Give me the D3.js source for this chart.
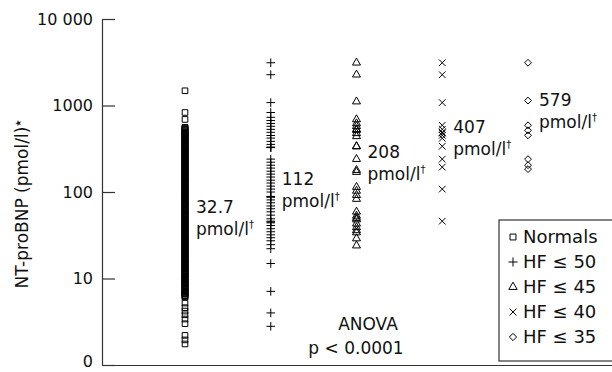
<!DOCTYPE html>
<html>
<head>
<meta charset="utf-8">
<script src="https://cdn.jsdelivr.net/npm/d3@7"></script>
<style>
  body { margin: 0; background: #fff; }
  svg { display: block; font-family: "DejaVu Sans", sans-serif; }
</style>
</head>
<body>
<div class="chart"></div>
<script>
// groups on the x axis and the median labels
const groups = ['Normals', 'HF ≤ 50', 'HF ≤ 45', 'HF ≤ 40', 'HF ≤ 35'];
const medians = ['32.7', '112', '208', '407', '579'];

// y ticks (log scale, bottom tick labelled 0)
const yTickValues = [1, 10, 100, 1000, 10000];
const yTickLabels = ['0', '10', '100', '1000', '10 000'];

// NT-proBNP values (pmol/l)
// normals overlap into a solid strip between ~6 and ~560
const normals = [1480, 830, 690,
  560, 549, 538, 529, 520, 508, 497, 487, 478, 469, 460, 452, 445, 435, 425, 417, 409, 402, 395, 386,
  378, 370, 363, 356, 350, 343, 336, 330, 323, 316, 310, 305, 300, 293, 287, 281, 276, 270, 265, 260,
  255, 250, 245, 240, 236, 231, 227, 222, 218, 214, 210, 206, 202, 198, 194, 190, 186, 182, 179, 175,
  172, 169, 166, 162, 159, 156, 153, 150, 147, 144, 141, 138, 136, 133, 131, 128, 126, 123, 121, 118,
  116, 114, 112, 109, 107, 105, 103, 101, 99, 97, 95, 93.5, 92, 90, 88, 86.5, 85, 83.5, 82, 80, 78,
  76.5, 75, 73.5, 72, 71, 70, 68.5, 67, 65.5, 64, 63, 62, 61, 60, 58.5, 57, 56, 55, 54, 53, 52, 51, 50,
  49, 48, 47, 46, 45, 44.2, 43.5, 42.6, 41.8, 41, 40.2, 39.4, 38.7, 37.9, 37.2, 36.4, 35.7, 35, 34.4,
  33.7, 33, 32.4, 31.8, 31.1, 30.5, 29.9, 29.4, 28.8, 28.2, 27.6, 27.1, 26.6, 26.1, 25.6, 25.1, 24.6,
  24.1, 23.6, 23.2, 22.7, 22.3, 21.8, 21.4, 21, 20.6, 20.2, 19.8, 19.4, 19, 18.6, 18.3, 17.9, 17.6,
  17.2, 16.9, 16.6, 16.3, 15.9, 15.6, 15.3, 15, 14.7, 14.4, 14.1, 13.9, 13.6, 13.4, 13.1, 12.8, 12.5,
  12.3, 12.1, 11.9, 11.6, 11.4, 11.2, 11, 10.7, 10.5, 10.3, 10.1, 9.9, 9.7, 9.5, 9.3, 9.1, 9, 8.8, 8.6,
  8.4, 8.3, 8.1, 8, 7.8, 7.7, 7.5, 7.4, 7.2, 7.1, 6.9, 6.8, 6.7, 6.6, 6.4, 6.3, 6.2, 6.1,
  5.2, 4.6, 4.2, 3.8, 3.4, 3.0, 2.2, 1.95, 1.75];
const hf50 = [3120, 2270, 1080, 830, 730, 670, 620, 575, 530, 490, 450, 420, 385, 355, 330, 328, 326,
  240, 221, 204, 189, 174, 161, 149, 137, 127, 117, 108, 100, 89, 88, 87, 81, 75, 69, 64, 59, 54, 49,
  46, 45, 44, 41, 37.6, 34.7, 32, 29.6, 27.3, 24.6, 22.1, 14.9, 7.1, 4.0, 2.8];
const hf45 = [3120, 2270, 1110, 690, 620, 575, 530, 520, 477, 440, 338, 335, 240, 179, 170, 114, 103,
  92, 83, 59, 53, 50, 48, 43, 39, 36, 34, 29, 24];
const hf40 = [3120, 2270, 1080, 590, 530, 490, 480, 452, 418, 338, 240, 194, 108, 46];
const hf35 = [3120, 1140, 590, 516, 452, 240, 204, 184];

const series = [normals, hf50, hf45, hf40, hf35];
const symbolTypes = [d3.symbolSquare2, d3.symbolPlus, d3.symbolTriangle2, d3.symbolTimes, d3.symbolDiamond2];
const symbolSizes = [40, 26, 46, 30, 30];

const svg_width = 612;
const svg_height = 372;

const svg = d3.select('.chart')
  .append('svg')
  .attr('width', svg_width)
  .attr('height', svg_height);

// scales
const x_scale = d3.scalePoint().domain(groups).range([185, 528]);
const y_scale = d3.scaleLog().domain([1, 10000]).range([365, 19]);

// y axis, ticks pointing inward
const y_axis = d3.axisLeft(y_scale)
  .tickValues(yTickValues)
  .tickFormat((d, i) => yTickLabels[i])
  .tickSizeInner(-13)
  .tickSizeOuter(0)
  .tickPadding(9);
const y_g = svg.append('g')
  .attr('transform', 'translate(102,0)')
  .call(y_axis);
y_g.selectAll('text').style('font-size', '16px').style('fill', '#111').style('font-family', '"DejaVu Sans", sans-serif');
// bottom label sits on the frame edge, lift it a little
y_g.selectAll('.tick text').filter(d => d === 1).attr('dy', '0.1em');
y_g.selectAll('line, path').attr('stroke', '#333').attr('stroke-width', 1.2);

// x axis: plain baseline
const x_line = d3.scaleLinear().range([102, 612]);
const x_g = svg.append('g')
  .attr('transform', 'translate(0,365)')
  .call(d3.axisBottom(x_line).ticks(0).tickSizeOuter(0));
x_g.select('path').attr('stroke', '#333').attr('stroke-width', 1.2);

// y axis title
const title = svg.append('text')
  .attr('transform', 'translate(28,204) rotate(-90)')
  .attr('text-anchor', 'middle')
  .style('font-size', '17px')
  .style('fill', '#111');
title.append('tspan').text('NT-proBNP (pmol/l)');
title.append('tspan').text('★').attr('dy', -7).style('font-size', '8px');

// points
series.forEach((values, i) => {
  svg.append('g')
    .selectAll('path')
    .data(values)
    .join('path')
    .attr('d', d3.symbol().type(symbolTypes[i]).size(symbolSizes[i]))
    .attr('transform', d => `translate(${x_scale(groups[i])},${y_scale(d)})`)
    .attr('fill', 'none')
    .attr('stroke', '#000')
    .attr('stroke-width', 1);
});

// median labels
const median_tops = [213, 185, 158, 133, 106];
groups.forEach((g, i) => {
  const t = svg.append('g')
    .attr('transform', `translate(${x_scale(g) + 11},${median_tops[i]})`)
    .style('font-size', '17px')
    .style('fill', '#111');
  t.append('text').text(medians[i]);
  const unit = t.append('text').attr('y', 22);
  unit.append('tspan').text('pmol/l');
  unit.append('tspan').text('†').attr('dy', -7).style('font-size', '10px');
});

// ANOVA note
svg.append('text')
  .attr('x', 368).attr('y', 330)
  .attr('text-anchor', 'middle')
  .style('font-size', '17px').style('fill', '#111')
  .text('ANOVA');
svg.append('text')
  .attr('x', 356).attr('y', 354)
  .attr('text-anchor', 'middle')
  .style('font-size', '17px').style('fill', '#111')
  .text('p < 0.0001');

// legend
const legend = svg.append('g').attr('transform', 'translate(499,220)');
legend.append('rect')
  .attr('width', 130).attr('height', 141)
  .attr('fill', '#fff')
  .attr('stroke', '#333').attr('stroke-width', 1.2);
const rows = legend.selectAll('.row')
  .data(groups)
  .join('g')
  .attr('class', 'row')
  .attr('transform', (d, i) => `translate(0,${23 + i * 25})`);
rows.append('path')
  .attr('d', (d, i) => d3.symbol().type(symbolTypes[i]).size(symbolSizes[i] * 1.1)())
  .attr('transform', 'translate(14,-6)')
  .attr('fill', 'none')
  .attr('stroke', '#000')
  .attr('stroke-width', 1);
rows.append('text')
  .attr('x', 24)
  .style('font-size', '18px').style('fill', '#111')
  .text(d => d);
</script>
</body>
</html>
